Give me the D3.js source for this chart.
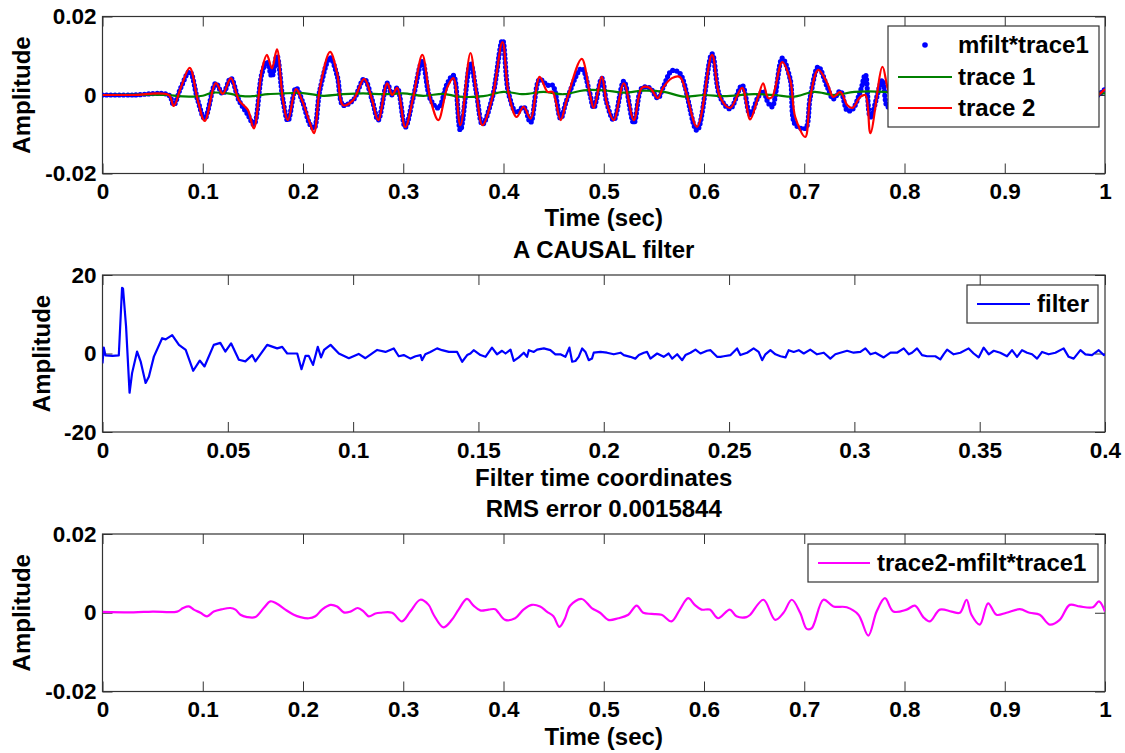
<!DOCTYPE html>
<html>
<head>
<meta charset="utf-8">
<script src="https://cdn.jsdelivr.net/npm/d3@7"></script>
<style>
  body { margin: 0; background: #fff; }
  svg { display: block; font-family: "Liberation Sans", Arial, sans-serif; font-weight: bold; }
  .tick text { font-size: 22.5px; fill: #000; }
  .tick line { stroke: #333; }
  .lbl { font-size: 24px; fill: #000; }
</style>
</head>
<body>
<svg id="canvas" width="1125" height="753"></svg>
<script>

// Tick values
const timeTicks = [0, 0.1, 0.2, 0.3, 0.4, 0.5, 0.6, 0.7, 0.8, 0.9, 1];
const filterTimeTicks = [0, 0.05, 0.1, 0.15, 0.2, 0.25, 0.3, 0.35, 0.4];
const ampTicks = [-0.02, 0, 0.02];
const filterAmpTicks = [-20, 0, 20];

// trace 2 (red), [time, amplitude]
const trace2 = [
    [0, 0], [0.03, 0], [0.066, 0], [0.071, -0.0028], [0.078, 0.0018], [0.087, 0.0069],
    [0.095, -0.0013], [0.102, -0.0066], [0.113, 0.003], [0.12, 0.0003], [0.128, 0.0043],
    [0.136, -0.0013], [0.145, -0.0038], [0.151, -0.0085], [0.159, 0.0064], [0.164, 0.0102],
    [0.169, 0.0068], [0.174, 0.0116], [0.18, -0.0013], [0.185, -0.0064], [0.193, 0.0015],
    [0.199, -0.0013], [0.207, -0.0072], [0.211, -0.0097], [0.217, 0.002], [0.227, 0.011],
    [0.234, 0.0056], [0.24, -0.0026], [0.25, -0.0013], [0.261, 0.0041], [0.269, -0.0013],
    [0.275, -0.0064], [0.284, 0.003], [0.289, 0], [0.294, 0.0018], [0.302, -0.0082],
    [0.31, -0.0005], [0.319, 0.0102], [0.327, -0.001], [0.335, -0.0064], [0.344, 0.002],
    [0.35, 0.0043], [0.357, -0.0077], [0.367, 0.0107], [0.373, 0.0005], [0.379, -0.0077],
    [0.389, -0.0005], [0.399, 0.0135], [0.405, 0.0005], [0.413, -0.0056], [0.42, -0.003],
    [0.427, -0.006], [0.436, 0.0046], [0.444, 0.0008], [0.449, 0.0008], [0.457, -0.0064],
    [0.463, -0.0013], [0.478, 0.0092], [0.486, 0.0005], [0.49, -0.0033], [0.498, 0.0046],
    [0.503, -0.002], [0.51, -0.0064], [0.52, 0.003], [0.53, -0.0064], [0.538, 0.0018],
    [0.546, 0.0018], [0.554, -0.0008], [0.559, 0.0018], [0.568, 0.0043], [0.576, 0.0046],
    [0.593, -0.0081], [0.608, 0.0102], [0.616, -0.0005], [0.626, -0.0033], [0.638, 0.0018],
    [0.646, -0.0062], [0.654, -0.0005], [0.659, 0.003], [0.664, -0.0008], [0.668, -0.0005],
    [0.678, 0.0084], [0.686, 0.0038], [0.691, -0.0056], [0.701, -0.0107], [0.706, -0.0005],
    [0.714, 0.0064], [0.723, 0.003], [0.729, -0.0005], [0.736, 0.0008], [0.743, -0.0026],
    [0.748, -0.0033], [0.756, -0.0005], [0.761, 0], [0.766, -0.0097], [0.778, 0.0072],
    [0.783, 0.002], [0.79, -0.003], [0.8, 0.004], [0.81, -0.002], [0.82, 0.003],
    [0.835, -0.003], [0.85, 0.002], [0.87, -0.002], [0.89, 0.003], [0.91, -0.002],
    [0.93, 0.002], [0.95, -0.002], [0.97, 0.002], [0.985, -0.001], [1, 0.0015]
];

// mfilt*trace1 (blue dots)
const mfiltTrace1 = [
    [0, 0], [0.03, 0], [0.066, 0], [0.071, -0.0025], [0.078, 0.0018], [0.087, 0.006],
    [0.095, -0.0013], [0.102, -0.006], [0.113, 0.003], [0.12, 0.0003], [0.128, 0.0043],
    [0.136, -0.0013], [0.145, -0.005], [0.151, -0.0075], [0.159, 0.0055], [0.164, 0.0085],
    [0.169, 0.0047], [0.174, 0.01], [0.18, -0.0013], [0.185, -0.0066], [0.193, 0.0018],
    [0.199, -0.0013], [0.207, -0.0075], [0.211, -0.0085], [0.217, 0.0015], [0.227, 0.0095],
    [0.234, 0.005], [0.24, -0.0026], [0.25, -0.0013], [0.261, 0.0041], [0.269, -0.0013],
    [0.275, -0.0064], [0.284, 0.003], [0.289, 0], [0.294, 0.0018], [0.302, -0.0082],
    [0.31, -0.0005], [0.319, 0.0085], [0.327, -0.001], [0.335, -0.0033], [0.344, 0.003],
    [0.35, 0.005], [0.357, -0.009], [0.367, 0.0082], [0.373, 0.0005], [0.379, -0.0075],
    [0.389, -0.0005], [0.399, 0.014], [0.405, 0.0005], [0.413, -0.0045], [0.42, -0.003],
    [0.427, -0.007], [0.436, 0.004], [0.444, 0.0025], [0.449, 0.0025], [0.457, -0.006],
    [0.463, -0.0013], [0.478, 0.0068], [0.486, 0.0005], [0.49, -0.0033], [0.498, 0.0043],
    [0.503, -0.002], [0.51, -0.0064], [0.52, 0.0035], [0.53, -0.0072], [0.538, 0.0018],
    [0.546, 0.0018], [0.554, -0.0008], [0.559, 0.0018], [0.568, 0.0062], [0.576, 0.0055],
    [0.593, -0.009], [0.608, 0.0105], [0.616, -0.0005], [0.626, -0.0035], [0.638, 0.0025],
    [0.646, -0.005], [0.654, -0.0005], [0.659, 0.001], [0.664, -0.002], [0.668, -0.003],
    [0.678, 0.0094], [0.686, 0.004], [0.691, -0.0075], [0.701, -0.0085], [0.706, -0.0005],
    [0.714, 0.0072], [0.723, 0.002], [0.729, -0.001], [0.736, 0.001], [0.743, -0.004],
    [0.748, -0.0037], [0.756, 0.001], [0.761, 0.0052], [0.766, -0.0056], [0.778, 0.0038],
    [0.783, -0.003], [0.79, -0.002], [0.8, 0.003], [0.81, -0.002], [0.82, 0.003],
    [0.835, -0.003], [0.85, 0.002], [0.87, -0.002], [0.89, 0.003], [0.91, -0.002],
    [0.93, 0.002], [0.95, -0.002], [0.97, 0.002], [0.985, -0.001], [1, 0.0015]
];

// trace 1 (green)
const trace1 = [
    [0, 0], [0.066, 0], [0.075, -0.0003], [0.09, -0.0004], [0.1, -0.0002], [0.11, 0.0006],
    [0.125, 0.0004], [0.14, -0.0003], [0.15, -0.0003], [0.165, 0.0002], [0.18, 0.0004],
    [0.2, 0.0005], [0.22, -0.0002], [0.24, 0.0002], [0.26, 0.0004], [0.28, 0.0002],
    [0.3, 0.0004], [0.32, -0.0002], [0.34, 0.0003], [0.355, -0.0004], [0.38, -0.0003],
    [0.4, 0.0008], [0.42, 0.0002], [0.44, 0.0008], [0.46, 0.0002], [0.48, 0.0012],
    [0.5, 0.0012], [0.52, 0.0006], [0.54, 0.0011], [0.56, 0.0008], [0.58, -0.0004],
    [0.6, 0], [0.62, -0.0003], [0.65, 0.0002], [0.67, 0], [0.69, -0.0004], [0.71, 0.0008],
    [0.73, 0], [0.75, 0.0008], [0.78, 0.0008], [0.8, 0.0002], [0.85, 0.0005],
    [0.9, 0.0002], [0.95, 0.0004], [1, 0.0004]
];

// causal filter (blue line), [filter time, amplitude]
const filterCoefs = [
    [0, -2.5], [0.0005, 1.5], [0.0012, -0.5], [0.004, -0.6], [0.0065, -0.5], [0.0078, 16.7],
    [0.0082, 16.5], [0.0094, 6.9], [0.0108, -10], [0.0118, -5], [0.0138, 0.5], [0.0152, -2],
    [0.0172, -7.5], [0.0185, -5.9], [0.0205, -0.8], [0.0238, 3.9], [0.0252, 3.6], [0.0278, 4.7],
    [0.0305, 2.2], [0.0332, 0.9], [0.0362, -4.4], [0.0388, -1.8], [0.0407, -3.3], [0.0444, 2.2],
    [0.047, 2.7], [0.049, 0.5], [0.0513, 2.6], [0.0544, -1.6], [0.057, -2], [0.0597, -0.4],
    [0.061, -2], [0.0657, 2.2], [0.0697, 1.3], [0.0717, 1.7], [0.0737, 0], [0.0777, 0],
    [0.0794, -4], [0.081, -0.6], [0.0823, -0.6], [0.084, -2.9], [0.0859, 1.7], [0.0872, -1],
    [0.0884, 0.9], [0.091, 2.2], [0.0943, 0], [0.0983, -1.2], [0.1022, -0.1], [0.1049, -1.2],
    [0.1096, 0.9], [0.1129, 0.4], [0.1162, 1.3], [0.1182, -0.7], [0.1202, -0.4],
    [0.1229, -1.3], [0.1249, -0.7], [0.1269, -0.4], [0.1275, -1.7], [0.1288, -0.2],
    [0.1308, 0.4], [0.1335, 1.3], [0.1355, 0.85], [0.1382, 0.4], [0.1415, 0.4], [0.1435, -2.1],
    [0.1455, -0.4], [0.1468, 0], [0.1481, 0.85], [0.1508, -0.4], [0.1528, -0.85], [0.1554, 1.5],
    [0.1574, -0.2], [0.1594, 0.7], [0.1608, 0], [0.1628, 1], [0.1641, -1.9], [0.1661, -1],
    [0.1681, 0.2], [0.1694, -0.85], [0.1701, 0.85], [0.1721, 0.4], [0.1734, 1], [0.1761, 1.3],
    [0.1787, 0.85], [0.1807, -0.2], [0.1827, -0.2], [0.1847, -0.85], [0.1863, 1.5],
    [0.1874, -2.1], [0.1887, -1.9], [0.19, -0.85], [0.1914, 1.3], [0.1927, 0.4], [0.194, -1.7],
    [0.1953, -1.3], [0.196, 0.2], [0.1987, 0.4], [0.2013, 0.2], [0.204, -0.2], [0.2067, 0.2],
    [0.208, -0.4], [0.2106, -0.85], [0.2126, -1.3], [0.214, -0.4], [0.216, 0.2], [0.2173, 0.4],
    [0.2186, -1.3], [0.2213, 0], [0.2239, -0.85], [0.2259, 0], [0.2273, -1.3], [0.2293, -0.2],
    [0.2313, -1.7], [0.2326, -0.4], [0.2346, 0.2], [0.2366, 1], [0.2386, 0], [0.2412, 0.7],
    [0.2426, 0.85], [0.2452, -0.85], [0.2466, -0.85], [0.2479, -0.7], [0.2506, -0.4],
    [0.2532, 1.3], [0.2545, -0.4], [0.2572, 0.2], [0.2598, 1.3], [0.2618, 0.4], [0.2632, -1.7],
    [0.2645, -0.2], [0.2665, 0.85], [0.2685, -0.2], [0.2705, -0.7], [0.2725, -1], [0.2738, 0.85],
    [0.2758, 0.4], [0.2778, 0.85], [0.2798, 0], [0.2824, 1], [0.2851, -0.2], [0.2878, 0.2],
    [0.2904, -1.3], [0.2924, -0.2], [0.2944, 0.2], [0.2971, 0.7], [0.2997, 0.2], [0.3024, 0.4],
    [0.3044, 1.3], [0.3064, -0.2], [0.3084, 0.2], [0.3117, -1], [0.3144, 0.2], [0.317, 0.2],
    [0.3197, 1.3], [0.3217, -0.2], [0.323, 0.2], [0.325, 1.3], [0.327, -0.4], [0.329, -0.7],
    [0.3323, -0.7], [0.3343, -1.5], [0.3356, -0.2], [0.337, 1], [0.3396, -0.2], [0.3423, 0.2],
    [0.3456, 1.3], [0.3476, 0], [0.3496, -1], [0.3516, 1.5], [0.3536, -0.2], [0.3556, 0.7],
    [0.3582, 0.2], [0.3609, -0.7], [0.3629, 0.85], [0.3649, -0.85], [0.3669, 0.85],
    [0.3689, 0.2], [0.3709, -0.2], [0.3729, -1.3], [0.3749, 0.4], [0.3775, -0.2], [0.3802, 0.2],
    [0.3835, 1.3], [0.3855, -0.85], [0.3875, -1.3], [0.3902, 0.85], [0.3922, -0.2],
    [0.3948, -0.4], [0.3975, 0.85], [0.3995, -0.4], [0.4, -0.2]
];

// trace2 - mfilt*trace1 (magenta)
const residual = [
    [0, 0.0002], [0.031, 0.0001], [0.05, 0.0003], [0.0745, 0.0003], [0.0804, 0.0012],
    [0.0861, 0.0016], [0.0911, 0.0008], [0.0977, 0], [0.1043, -0.0009], [0.111, 0.0003],
    [0.1193, 0.0009], [0.1276, 0.0012], [0.1326, 0.0008], [0.1376, -0.0005], [0.1442, -0.0011],
    [0.1525, -0.0011], [0.1608, 0.0012], [0.1675, 0.0029], [0.1741, 0.0023], [0.1824, 0.0008],
    [0.1908, -0.0005], [0.1974, -0.0011], [0.2057, -0.0014], [0.2123, -0.0009], [0.219, 0.0008],
    [0.2273, 0.002], [0.234, 0.0016], [0.2406, 0.0001], [0.2473, 0.0003], [0.2546, 0.0012],
    [0.2606, 0.0003], [0.2656, -0.0009], [0.2722, -0.0002], [0.2772, 0], [0.2888, 0],
    [0.2987, -0.0022], [0.307, 0.0003], [0.317, 0.0033], [0.3253, 0.002], [0.3303, -0.0005],
    [0.3402, -0.0037], [0.3485, -0.0018], [0.3552, 0.0008], [0.3635, 0.0035], [0.3701, 0.0018],
    [0.3768, 0.0006], [0.3851, 0.0008], [0.3917, 0.0009], [0.395, 0], [0.4017, -0.0018],
    [0.4116, -0.0014], [0.4199, 0.0008], [0.4282, 0.002], [0.4365, 0.0016], [0.4432, 0.0003],
    [0.4498, -0.0009], [0.4558, -0.0036], [0.4614, -0.0014], [0.4664, 0.0018], [0.478, 0.0035],
    [0.488, 0.0012], [0.4963, 0], [0.5045, -0.0018], [0.5145, -0.0014], [0.5245, -0.0005],
    [0.5328, 0.0018], [0.5394, 0], [0.5477, -0.0003], [0.5577, -0.0005], [0.5676, -0.0022],
    [0.5759, 0.0008], [0.5842, 0.0037], [0.5908, 0.002], [0.5975, 0.0008], [0.6058, 0.0008],
    [0.6141, -0.0014], [0.6257, 0.0008], [0.6324, -0.0009], [0.6424, -0.0011], [0.6461, -0.0005],
    [0.6593, 0.0033], [0.671, -0.0018], [0.6793, 0], [0.6876, 0.0033], [0.6959, 0],
    [0.7025, -0.0041], [0.7075, -0.0039], [0.7191, 0.0033], [0.7291, 0.0016], [0.7424, 0.0014],
    [0.754, -0.0005], [0.7639, -0.0058], [0.7722, 0.0003], [0.7805, 0.0037], [0.7888, 0.0003],
    [0.8021, 0.0008], [0.8104, 0.0018], [0.8187, -0.0011], [0.8253, -0.0022], [0.8353, 0.0008],
    [0.8469, 0.0003], [0.8552, 0], [0.8619, 0.0033], [0.8668, -0.0005], [0.8751, -0.003],
    [0.8834, 0.0024], [0.8917, -0.0005], [0.9017, 0], [0.915, 0.0009], [0.9249, 0],
    [0.9349, -0.0005], [0.9449, -0.003], [0.9548, -0.0018], [0.9648, 0.002], [0.9748, 0.0016],
    [0.988, 0.0014], [0.994, 0.0029], [1, 0.0003]
];

const svg = d3.select("#canvas");
const left = 102.5, right = 1105;

// Panel layout
const panels = [
    { id: "p1", top: 16.5, bottom: 173.5, xDomain: [0, 1], yDomain: [-0.02, 0.02],
      xTicks: timeTicks, yTicks: ampTicks, xLabel: "Time (sec)", xLabelY: 226,
      yLabelX: 30, title: null },
    { id: "p2", top: 275, bottom: 432, xDomain: [0, 0.4], yDomain: [-20, 20],
      xTicks: filterTimeTicks, yTicks: filterAmpTicks, xLabel: "Filter time coordinates",
      xLabelY: 486, yLabelX: 50, title: "A CAUSAL filter", titleY: 258 },
    { id: "p3", top: 534, bottom: 691.5, xDomain: [0, 1], yDomain: [-0.02, 0.02],
      xTicks: timeTicks, yTicks: ampTicks, xLabel: "Time (sec)", xLabelY: 745,
      yLabelX: 30, title: "RMS error 0.0015844", titleY: 517 }
];

panels.forEach(p => {
    p.x = d3.scaleLinear().domain(p.xDomain).range([left, right]);
    p.y = d3.scaleLinear().domain(p.yDomain).range([p.bottom, p.top]);

    svg.append("clipPath").attr("id", `clip-${p.id}`)
        .append("rect")
        .attr("x", left).attr("y", p.top)
        .attr("width", right - left).attr("height", p.bottom - p.top);

    p.g = svg.append("g");
    p.plot = svg.append("g").attr("clip-path", `url(#clip-${p.id})`);
});

function drawAxes(p) {
    const g = p.g;
    const fmt = d => String(d);

    g.append("g").attr("transform", `translate(0,${p.bottom})`)
        .call(d3.axisBottom(p.x).tickValues(p.xTicks).tickSize(-10).tickPadding(10).tickFormat(fmt));
    g.append("g").attr("transform", `translate(0,${p.top})`)
        .call(d3.axisTop(p.x).tickValues(p.xTicks).tickSize(-10).tickFormat(""));
    g.append("g").attr("transform", `translate(${left},0)`)
        .call(d3.axisLeft(p.y).tickValues(p.yTicks).tickSize(-10).tickPadding(6).tickFormat(fmt));
    g.append("g").attr("transform", `translate(${right},0)`)
        .call(d3.axisRight(p.y).tickValues(p.yTicks).tickSize(-10).tickFormat(""));

    g.selectAll(".domain").remove();
    g.selectAll("text").attr("font-family", null).attr("font-size", null);

    // Box
    g.append("rect")
        .attr("x", left).attr("y", p.top)
        .attr("width", right - left).attr("height", p.bottom - p.top)
        .attr("fill", "none").attr("stroke", "#333").attr("stroke-width", 1.2);

    // Labels
    g.append("text").attr("class", "lbl")
        .attr("x", (left + right) / 2).attr("y", p.xLabelY)
        .attr("text-anchor", "middle").text(p.xLabel);
    g.append("text").attr("class", "lbl")
        .attr("transform", `translate(${p.yLabelX},${(p.top + p.bottom) / 2}) rotate(-90)`)
        .attr("text-anchor", "middle").text("Amplitude");
    if (p.title)
        g.append("text").attr("class", "lbl")
            .attr("x", (left + right) / 2).attr("y", p.titleY)
            .attr("text-anchor", "middle").text(p.title);
}

function addLine(p, data, color, width, curve) {
    const line = d3.line()
        .x(d => p.x(d[0]))
        .y(d => p.y(d[1]))
        .curve(curve || d3.curveCatmullRom.alpha(0.5));
    return p.plot.append("path")
        .datum(data)
        .attr("d", line)
        .attr("fill", "none")
        .attr("stroke", color)
        .attr("stroke-width", width)
        .attr("stroke-linejoin", "round");
}

// Top panel: dots first, then trace 1, then trace 2
addLine(panels[0], mfiltTrace1, "#0000ff", 5.2)
    .attr("stroke-dasharray", "0 4.2")
    .attr("stroke-linecap", "round");
addLine(panels[0], trace1, "#008000", 2.2);
addLine(panels[0], trace2, "#ff0000", 2.2);

addLine(panels[1], filterCoefs, "#0000ff", 2.2, d3.curveLinear);
addLine(panels[2], residual, "#ff00ff", 2.2);

panels.forEach(drawAxes);

// Legends
const legends = [
    { panel: 0, box: [888, 26, 211, 101], textX: 958, lineX: [898, 952],
      items: [
          { name: "mfilt*trace1", color: "#0000ff", dot: true, y: 45 },
          { name: "trace 1", color: "#008000", y: 77 },
          { name: "trace 2", color: "#ff0000", y: 108 }
      ] },
    { panel: 1, box: [967, 285, 131, 38], textX: 1037, lineX: [977, 1030],
      items: [{ name: "filter", color: "#0000ff", y: 304 }] },
    { panel: 2, box: [808, 544, 290, 38], textX: 877, lineX: [818, 870],
      items: [{ name: "trace2-mfilt*trace1", color: "#ff00ff", y: 563 }] }
];

legends.forEach(lg => {
    const g = svg.append("g");
    g.append("rect")
        .attr("x", lg.box[0]).attr("y", lg.box[1])
        .attr("width", lg.box[2]).attr("height", lg.box[3])
        .attr("fill", "#fff").attr("stroke", "#333").attr("stroke-width", 1.2);

    const rows = g.selectAll("g.item").data(lg.items).enter().append("g").attr("class", "item");

    rows.filter(d => d.dot).append("circle")
        .attr("cx", (lg.lineX[0] + lg.lineX[1]) / 2).attr("cy", d => d.y)
        .attr("r", 2.8).attr("fill", d => d.color);
    rows.filter(d => !d.dot).append("line")
        .attr("x1", lg.lineX[0]).attr("x2", lg.lineX[1])
        .attr("y1", d => d.y).attr("y2", d => d.y)
        .attr("stroke", d => d.color).attr("stroke-width", 2.2);
    rows.append("text").attr("class", "lbl")
        .attr("x", lg.textX).attr("y", d => d.y)
        .attr("dy", "0.35em")
        .text(d => d.name);
});

</script>
</body>
</html>
